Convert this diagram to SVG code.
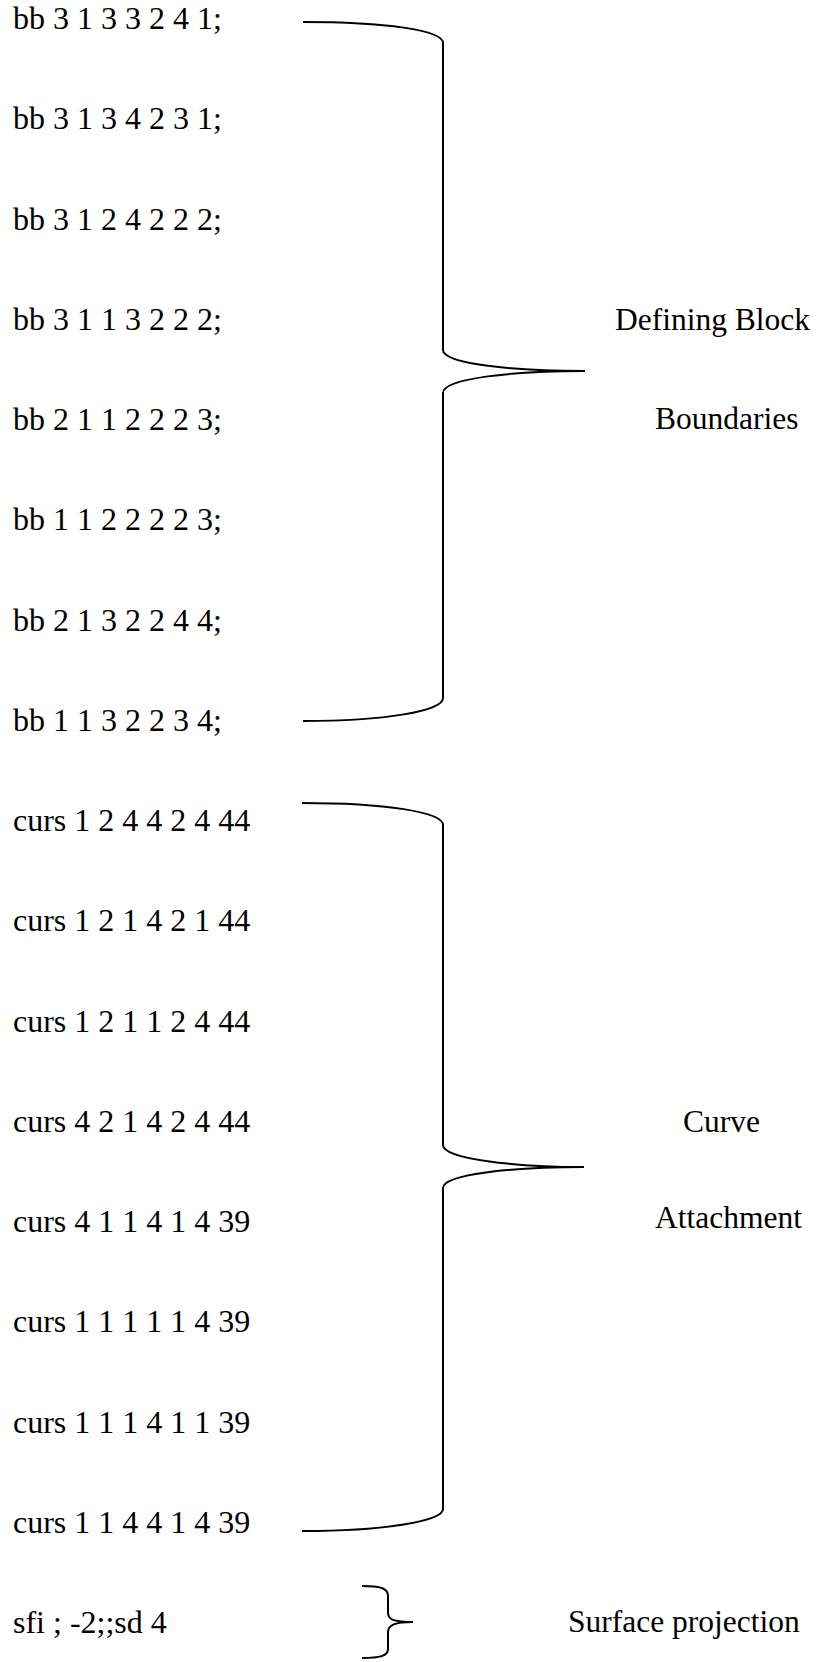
<svg xmlns="http://www.w3.org/2000/svg" width="818" height="1662" viewBox="0 0 818 1662">
<style>
text{font-family:"Liberation Serif","Times New Roman",serif;font-size:31.5px;fill:#000}
#lines text{font-size:32px}
.b{fill:none;stroke:#000;stroke-width:2}
</style>
<rect width="818" height="1662" fill="#fff"/>
<g id="lines">
<g id="l0"><text x="13" y="29">bb 3 1 3 3 2 4 1;</text></g>
<g id="l1"><text x="13" y="129">bb 3 1 3 4 2 3 1;</text></g>
<g id="l2"><text x="13" y="230">bb 3 1 2 4 2 2 2;</text></g>
<g id="l3"><text x="13" y="330">bb 3 1 1 3 2 2 2;</text></g>
<g id="l4"><text x="13" y="430">bb 2 1 1 2 2 2 3;</text></g>
<g id="l5"><text x="13" y="530">bb 1 1 2 2 2 2 3;</text></g>
<g id="l6"><text x="13" y="631">bb 2 1 3 2 2 4 4;</text></g>
<g id="l7"><text x="13" y="731">bb 1 1 3 2 2 3 4;</text></g>
<g id="l8"><text x="13" y="831">curs 1 2 4 4 2 4 44</text></g>
<g id="l9"><text x="13" y="931">curs 1 2 1 4 2 1 44</text></g>
<g id="l10"><text x="13" y="1032">curs 1 2 1 1 2 4 44</text></g>
<g id="l11"><text x="13" y="1132">curs 4 2 1 4 2 4 44</text></g>
<g id="l12"><text x="13" y="1232">curs 4 1 1 4 1 4 39</text></g>
<g id="l13"><text x="13" y="1332">curs 1 1 1 1 1 4 39</text></g>
<g id="l14"><text x="13" y="1433">curs 1 1 1 4 1 1 39</text></g>
<g id="l15"><text x="13" y="1533">curs 1 1 4 4 1 4 39</text></g>
<g id="l16"><text x="13" y="1633">sfi ; -2;;sd 4</text></g>
</g>
<g id="label-block"><text x="615" y="330">Defining Block</text><text x="655" y="429">Boundaries</text></g>
<g id="label-curve"><text x="683" y="1132">Curve</text><text x="655" y="1228">Attachment</text></g>
<g id="label-surface"><text x="568" y="1632">Surface projection</text></g>
<g id="connectors">
<path class="b" d="M303,22 C385,22 443,30 443,43 V350 C443,364 515,371 585,371 C515,371 443,378 443,393 V698 C443,711 385,721 303,721"/>
<path class="b" d="M302,803 C385,803 443,812 443,825 V1145 C443,1159 515,1167 584,1167 C515,1167 443,1174 443,1188 V1509 C443,1521 385,1531 302,1531"/>
<path class="b" d="M362,1586 C380,1586 388,1588 388,1596 V1613 C388,1620 395,1622 413,1622 C395,1622 388,1625 388,1632 V1649 C388,1656 380,1658 362,1658"/>
</g>
</svg>
